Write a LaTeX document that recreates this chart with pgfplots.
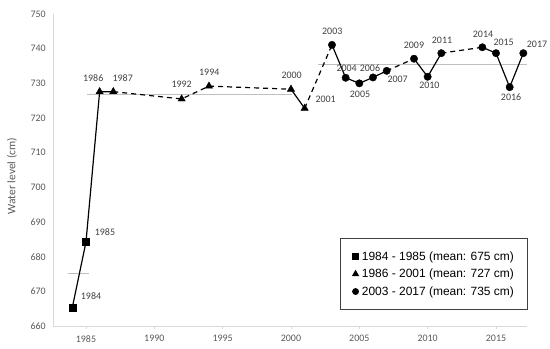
\documentclass[border=0pt]{standalone}
\usepackage{fontspec}
\setmainfont{Carlito}
\newfontfamily\arial{Liberation Sans}
\usepackage{pgfplots}
\pgfplotsset{compat=1.18}
\pgfplotsset{dotleg/.style={legend image code/.code={\draw[##1] plot coordinates {(0bp,0bp)}; \path (-4bp,0bp) (4bp,0bp);}}}
\definecolor{tickgray}{HTML}{595959}
\definecolor{labgray}{HTML}{404040}
\definecolor{axgray}{HTML}{D9D9D9}
\definecolor{meangray}{HTML}{BFBFBF}
\begin{document}
\begin{tikzpicture}
\begin{axis}[
  scale only axis, width=474bp, height=312bp,
  xmin=1982.61, xmax=2017.29, ymin=660, ymax=750,
  axis lines*=left,
  axis line style={draw=axgray, line width=0.8pt},
  xtick={1985,1990,...,2015}, ytick={660,670,...,750},
  x tick style={draw=axgray, line width=0.8pt},
  xtick align=outside, major tick length=3bp,
  y tick style={draw=none},
  /pgf/number format/assume math mode=true,
  /pgf/number format/1000 sep={},
  tick label style={font=\fontsize{10}{12}\selectfont, text=tickgray},
  yticklabel style={xshift=-4bp},
  xticklabel style={yshift=-3bp},
  ylabel={Water level (cm)},
  ylabel style={at={(axis description cs:-0.0871,0.48)}, anchor=center, font=\fontsize{11.5}{13}\selectfont, text=tickgray},
  clip=false,
  legend style={at={(1,0.0513)}, anchor=south east, draw=black!75, line width=0.8pt, fill=white,
     font=\arial\fontsize{12}{14}\selectfont, inner xsep=11bp, inner ysep=11bp, row sep=3.3bp},
  legend cell align=left,
]
% mean lines
\addplot[meangray, line width=0.8pt, forget plot] coordinates {(1983.7,675.2) (1985.2,675.2)};
\addplot[meangray, line width=0.8pt, forget plot] coordinates {(1985.1,726.8) (2000.1,726.8)};
\addplot[meangray, line width=0.8pt, forget plot] coordinates {(2002.0,735.5) (2017.29,735.5)};
% solid segments
\addplot[black, line width=1.2pt, forget plot] coordinates {(1984,665.3) (1985,684.2) (1986,727.6) (1987,727.6)};
\addplot[black, line width=1.2pt, forget plot] coordinates {(2000,728.3) (2001,722.8)};
\addplot[black, line width=1.2pt, forget plot] coordinates {(2003,741.1) (2004,731.6) (2005,730.0) (2006,731.7) (2007,733.6)};
\addplot[black, line width=1.2pt, forget plot] coordinates {(2009,737.1) (2010,731.9) (2011,738.7)};
\addplot[black, line width=1.2pt, forget plot] coordinates {(2014,740.4) (2015,738.7) (2016,728.9) (2017,738.7)};
% dashed segments
\addplot[black, line width=1.2pt, dash pattern=on 5bp off 4bp, forget plot] coordinates {(1987,727.6) (1992,725.5) (1994,729.2) (2000,728.3)};
\addplot[black, line width=1.2pt, dash pattern=on 5bp off 4bp, forget plot] coordinates {(2001,722.8) (2003,741.1)};
\addplot[black, line width=1.2pt, dash pattern=on 5bp off 4bp, forget plot] coordinates {(2007,733.6) (2009,737.1)};
\addplot[black, line width=1.2pt, dash pattern=on 5bp off 4bp, forget plot] coordinates {(2011,738.7) (2014,740.4)};
% markers
\addplot[only marks, mark=square*, mark size=3.5bp, black, forget plot] coordinates {(1984,665.3) (1985,684.2)};
\addplot[only marks, mark=triangle*, mark size=4.2bp, black, forget plot] coordinates {(1986,727.6) (1987,727.6) (1992,725.5) (1994,729.2) (2000,728.3) (2001,722.8)};
\addplot[only marks, mark=*, mark size=3.7bp, black, forget plot] coordinates {(2003,741.1) (2004,731.6) (2005,730.0) (2006,731.7) (2007,733.6) (2009,737.1) (2010,731.9) (2011,738.7) (2014,740.4) (2015,738.7) (2016,728.9) (2017,738.7)};
% legend
\addlegendimage{only marks, mark=square*, mark size=3bp, black, dotleg}
\addlegendentry{1984 - 1985 (mean: 675 cm)}
\addlegendimage{only marks, mark=triangle*, mark size=3.5bp, black, dotleg}
\addlegendentry{1986 - 2001 (mean: 727 cm)}
\addlegendimage{only marks, mark=*, mark size=3bp, black, dotleg}
\addlegendentry{2003 - 2017 (mean: 735 cm)}
% data labels
\begin{scope}[every node/.style={font=\fontsize{10}{12}\selectfont, text=labgray, inner sep=0pt}]
\node[xshift=18.7bp, yshift=11bp] at (axis cs:1984,665.3) {1984};
\node[xshift=19bp, yshift=10.3bp] at (axis cs:1985,684.2) {1985};
\node[xshift=-6.4bp, yshift=13.4bp] at (axis cs:1986,727.6) {1986};
\node[xshift=9.4bp, yshift=13.4bp] at (axis cs:1987,727.6) {1987};
\node[xshift=0bp, yshift=14.7bp] at (axis cs:1992,725.5) {1992};
\node[xshift=0.3bp, yshift=14.3bp] at (axis cs:1994,729.2) {1994};
\node[xshift=0.7bp, yshift=13.6bp] at (axis cs:2000,728.3) {2000};
\node[xshift=21bp, yshift=9.3bp] at (axis cs:2001,722.8) {2001};
\node[xshift=0.3bp, yshift=13.3bp] at (axis cs:2003,741.1) {2003};
\node[xshift=1bp, yshift=9.4bp] at (axis cs:2004,731.6) {2004};
\node[xshift=0.7bp, yshift=-11bp] at (axis cs:2005,730.0) {2005};
\node[xshift=-3bp, yshift=9bp] at (axis cs:2006,731.7) {2006};
\node[xshift=11bp, yshift=-8.3bp] at (axis cs:2007,733.6) {2007};
\node[xshift=0bp, yshift=13.7bp] at (axis cs:2009,737.1) {2009};
\node[xshift=1.7bp, yshift=-8.3bp] at (axis cs:2010,731.9) {2010};
\node[xshift=0.7bp, yshift=13.3bp] at (axis cs:2011,738.7) {2011};
\node[xshift=0.7bp, yshift=13.3bp] at (axis cs:2014,740.4) {2014};
\node[xshift=7.6bp, yshift=10.6bp] at (axis cs:2015,738.7) {2015};
\node[xshift=1.4bp, yshift=-10.4bp] at (axis cs:2016,728.9) {2016};
\node[xshift=13.7bp, yshift=9bp] at (axis cs:2017,738.7) {2017};
\end{scope}
\end{axis}
\pgfresetboundingbox
\path[use as bounding box] ([shift={(-53.3bp,-23bp)}]current axis.south west) rectangle ([shift={(22.7bp,14bp)}]current axis.north east);
\end{tikzpicture}
\end{document}
